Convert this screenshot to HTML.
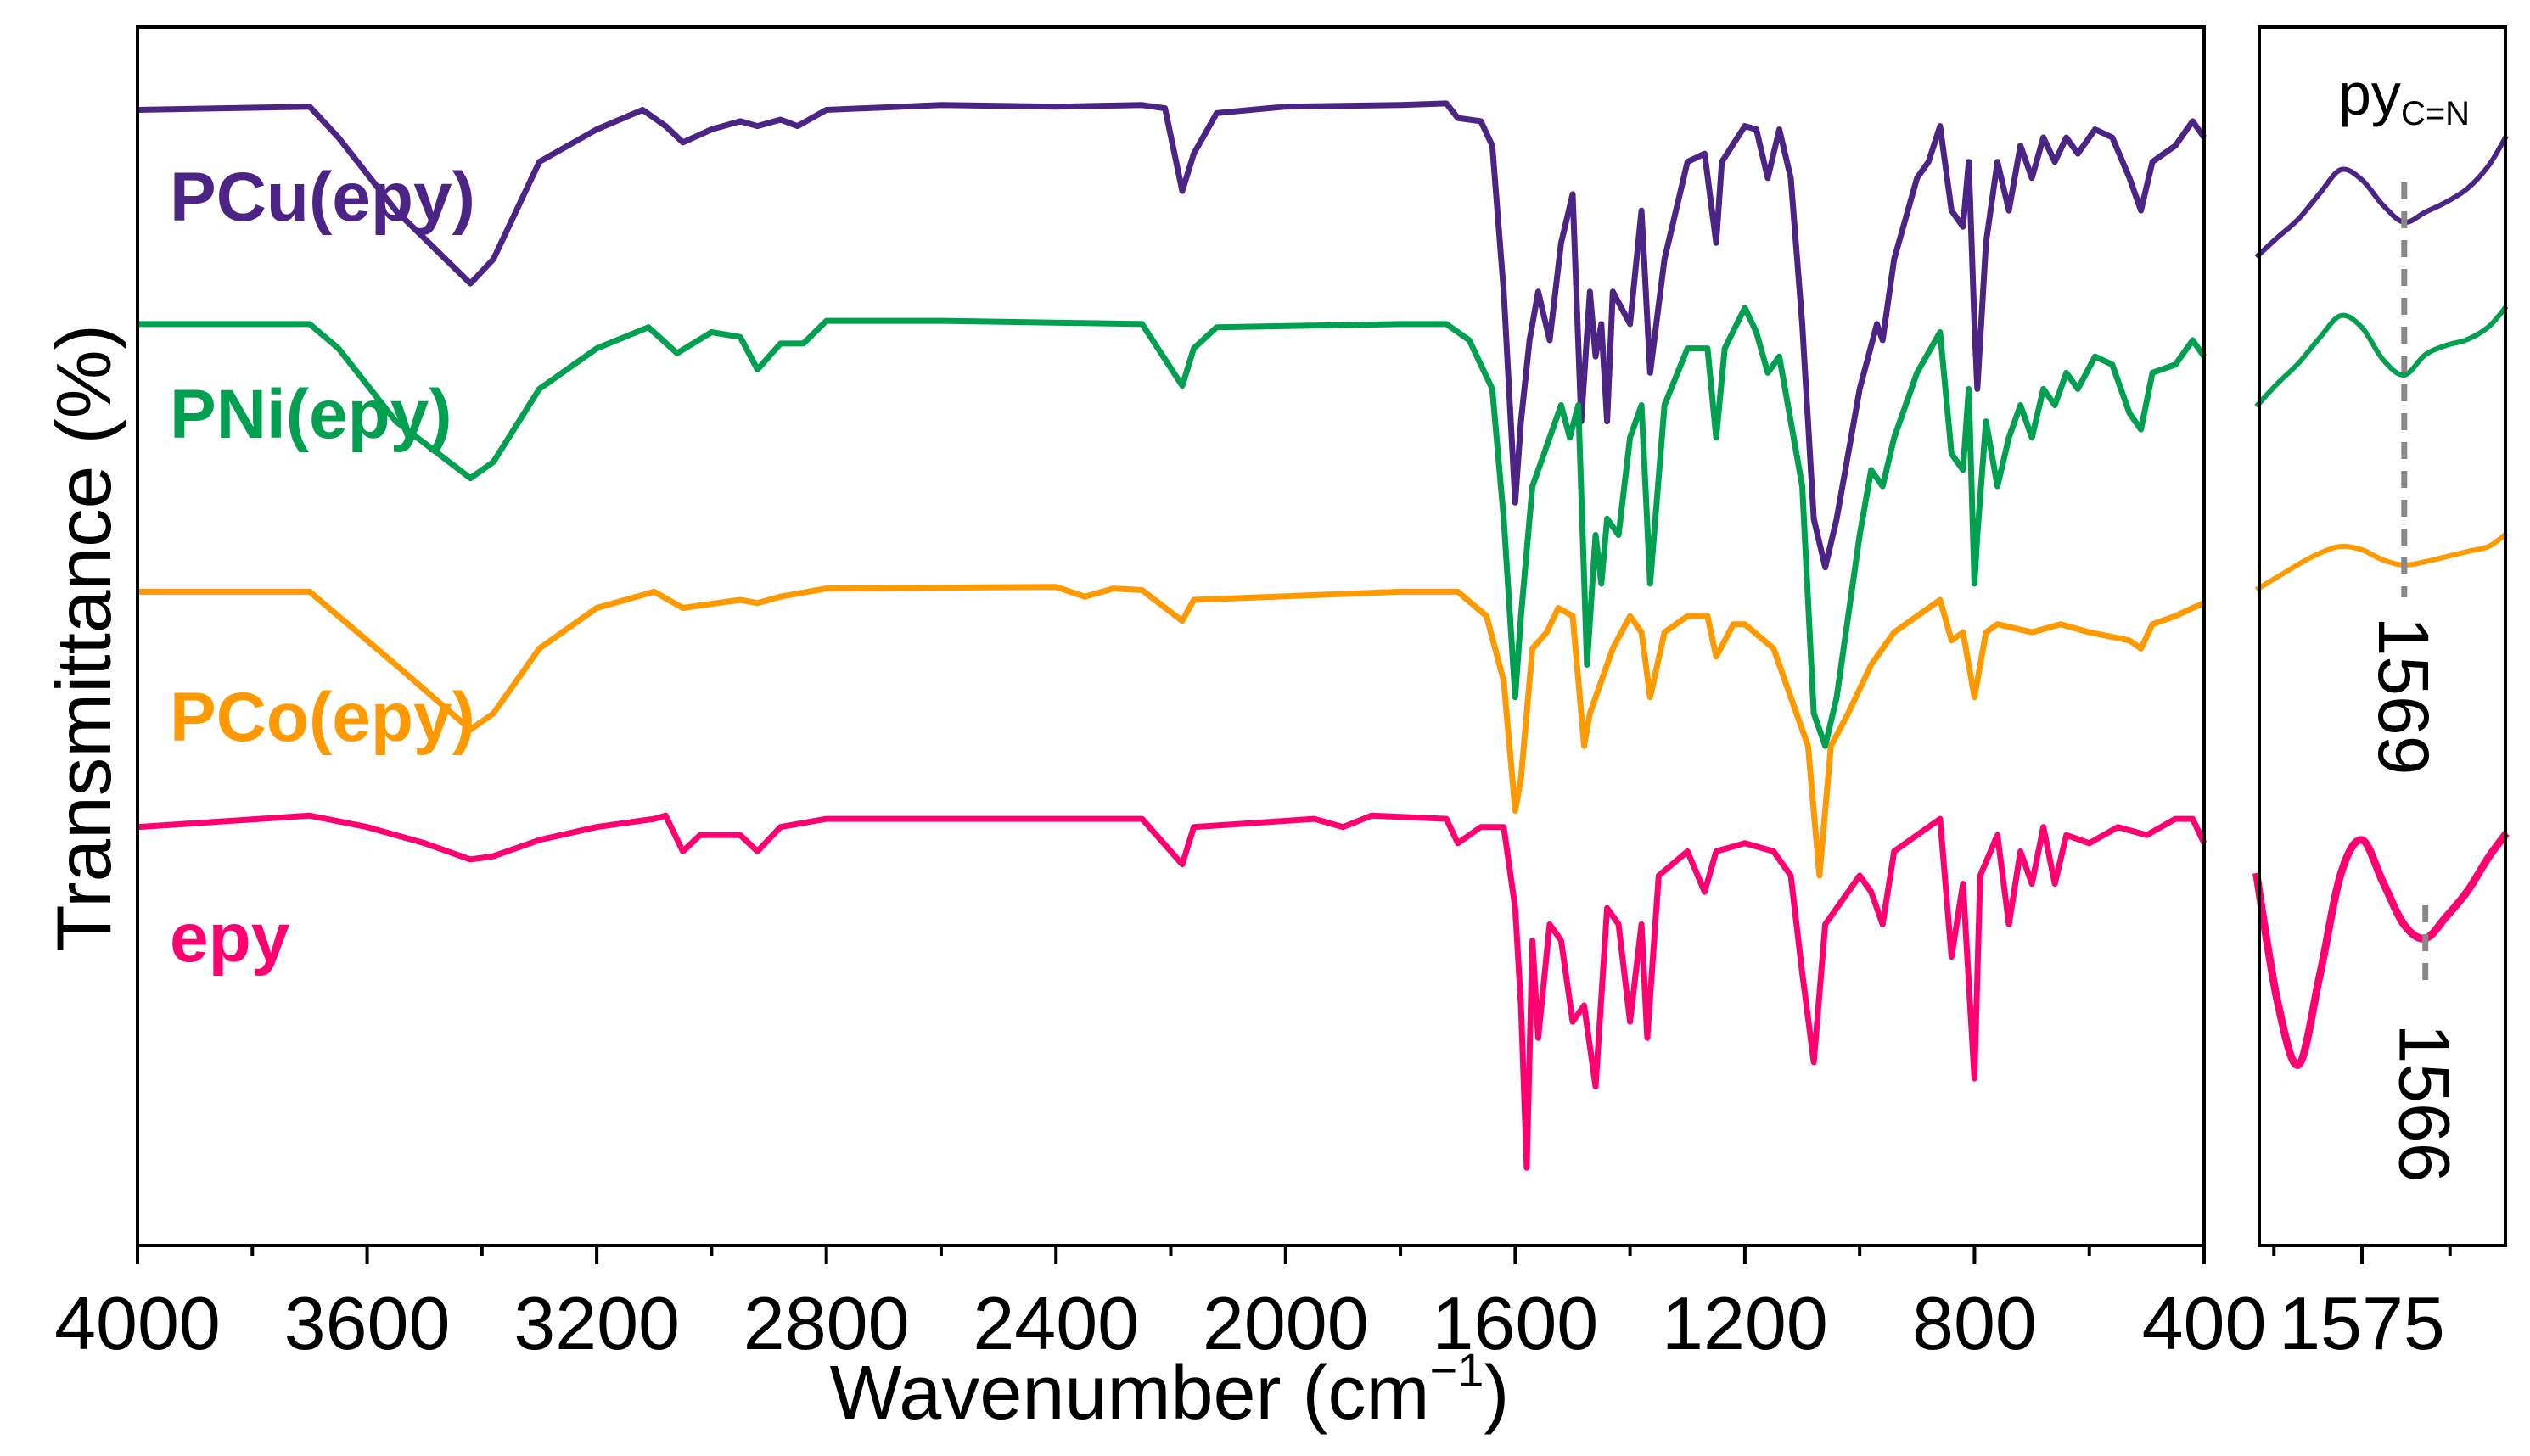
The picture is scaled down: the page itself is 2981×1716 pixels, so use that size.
<!DOCTYPE html>
<html><head><meta charset="utf-8">
<style>
html,body{margin:0;padding:0;background:#fff;}
svg{display:block;font-family:"Liberation Sans",Arial,sans-serif;}
</style></head>
<body>
<svg id="chart" width="2981" height="1716" viewBox="0 0 2981 1716" xmlns="http://www.w3.org/2000/svg">
<g id="plot"></g>
<g id="inset"></g>
</svg>
<script>
// Main-panel data: wavenumber (cm-1) and relative transmittance offset (a.u., larger = lower on plot)
const pcuWave=[4000,3700,3650,3550,3420,3380,3300,3200,3120,3080,3050,3000,2950,2920,2880,2850,2800,2600,2400,2250,2210,2180,2160,2120,2000,1800,1720,1700,1660,1640,1620,1600,1590,1575,1560,1540,1520,1500,1485,1470,1460,1450,1440,1430,1400,1380,1365,1340,1300,1270,1250,1240,1200,1180,1160,1140,1120,1100,1080,1060,1040,1000,970,960,940,900,880,860,840,820,810,800,795,780,760,740,720,700,680,660,640,620,590,560,530,510,490,450,420,400];
const pcuVal=[68,66,85,130,175,160,100,80,68,78,88,80,75,78,74,78,68,65,66,65,67,118,95,70,66,65,64,73,75,90,180,310,260,210,180,210,150,120,260,180,220,200,260,180,200,130,230,160,100,95,150,100,78,80,110,80,110,200,320,350,320,240,200,210,160,110,100,78,130,140,100,200,240,150,100,130,90,110,85,100,85,95,80,85,110,130,100,90,75,85];
const pniWave=[4000,3700,3650,3550,3420,3380,3300,3200,3110,3060,3000,2950,2920,2880,2840,2800,2600,2250,2180,2160,2120,1800,1720,1680,1640,1620,1600,1590,1570,1550,1520,1505,1490,1475,1460,1450,1440,1420,1400,1380,1365,1340,1300,1265,1250,1235,1200,1180,1160,1140,1100,1080,1060,1040,1000,980,960,940,900,860,840,820,810,800,795,780,760,740,720,700,680,660,640,620,590,560,530,510,490,450,420,400];
const pniVal=[200,200,215,260,295,285,240,215,202,218,205,208,228,212,212,198,198,200,238,215,202,200,200,210,240,320,430,380,300,280,250,270,250,410,330,360,320,330,270,250,360,250,215,215,270,215,190,205,230,220,300,440,460,430,330,290,300,270,230,205,280,290,240,360,330,260,300,270,250,270,240,250,230,240,220,225,255,265,230,225,210,220];
const pcoWave=[4000,3700,3650,3550,3420,3380,3300,3200,3100,3050,2950,2920,2880,2800,2400,2350,2300,2250,2180,2160,1800,1700,1650,1620,1600,1590,1570,1545,1525,1500,1480,1470,1450,1430,1400,1380,1365,1340,1300,1265,1250,1220,1200,1150,1120,1090,1070,1050,1020,980,960,940,900,860,840,820,800,780,760,700,650,600,530,510,490,450,420,400];
const pcoVal=[365,365,380,410,450,440,400,375,365,375,370,372,368,363,362,368,363,364,383,370,365,365,380,420,500,480,400,390,375,380,460,440,420,400,380,390,430,390,380,380,405,385,385,400,430,460,540,460,440,410,400,390,380,370,395,390,430,390,385,390,385,390,395,400,385,380,375,372];
const epyWave=[4000,3700,3600,3500,3420,3380,3300,3200,3100,3080,3050,3020,2950,2920,2880,2800,2250,2180,2160,1950,1900,1850,1720,1700,1660,1620,1600,1590,1580,1570,1560,1540,1520,1500,1480,1460,1440,1420,1400,1380,1370,1350,1300,1270,1250,1200,1150,1120,1100,1080,1060,1040,1000,980,960,940,900,860,840,820,800,790,760,740,720,700,680,660,640,600,550,500,450,420,400];
const epyVal=[510,503,510,520,530,528,518,510,505,503,525,515,515,525,510,505,505,533,510,505,510,503,505,520,510,510,560,620,720,580,640,570,580,630,620,670,560,570,630,570,640,540,525,550,525,520,525,540,600,655,570,560,540,550,570,525,515,505,590,545,665,540,515,570,525,545,510,545,515,520,510,515,505,505,520];
const xTicks=[4000,3600,3200,2800,2400,2000,1600,1200,800,400];
const seriesNames=["PCu(epy)","PNi(epy)","PCo(epy)","epy"];
// Inset data (wavenumber cm-1, relative transmittance offset a.u.)
const insetWave=[1590,1587,1584,1581,1578,1575,1572,1569,1566,1563,1560,1557,1554.5];
const insetPcu=[303,280,258,228,200,212,242,262,250,238,222,195,160];
const insetPni=[479,452,428,398,372,386,424,442,418,407,400,385,361];
const insetPco=[695,680,665,652,644,648,660,666,662,656,650,644,629];
const insetEpy=[1029,1180,1255,1150,1030,990,1040,1090,1106,1080,1050,1010,982];
const insetTicks=[1587.5,1575,1562.5];

const NS="http://www.w3.org/2000/svg";
const L=162,R=2597,T=32,B=1468;
const IL=2662,IR=2952;
function xs(w){return L+(4000-w)/3600*(R-L);}
function ys(v){return T+(v-17)/751*(B-T);}
function ixs(w){return 2783+(1575-w)*8.3;}
function iys(v){return v;}
function mk(tag,attrs,parent){const e=document.createElementNS(NS,tag);for(const k in attrs)e.setAttribute(k,attrs[k]);parent.appendChild(e);return e;}
function smooth(pts){
  let d="M"+pts[0][0].toFixed(1)+","+pts[0][1].toFixed(1);
  for(let i=0;i<pts.length-1;i++){
    const p0=pts[i-1]||pts[i],p1=pts[i],p2=pts[i+1],p3=pts[i+2]||p2;
    const c1=[p1[0]+(p2[0]-p0[0])/6,p1[1]+(p2[1]-p0[1])/6];
    const c2=[p2[0]-(p3[0]-p1[0])/6,p2[1]-(p3[1]-p1[1])/6];
    d+="C"+c1[0].toFixed(1)+","+c1[1].toFixed(1)+" "+c2[0].toFixed(1)+","+c2[1].toFixed(1)+" "+p2[0].toFixed(1)+","+p2[1].toFixed(1);
  }
  return d;
}
const plot=document.getElementById('plot'), inset=document.getElementById('inset');
const colors=["#4B2485","#00A050","#FF9900","#FF0070"];
const waves=[pcuWave,pniWave,pcoWave,epyWave], vals=[pcuVal,pniVal,pcoVal,epyVal];
const labelY=[260,516,873,1133];
for(let s=0;s<4;s++){
  let d="";
  for(let i=0;i<waves[s].length;i++){d+=(i?"L":"M")+xs(waves[s][i]).toFixed(1)+","+ys(vals[s][i]).toFixed(1);}
  const p=mk('path',{d:d,fill:'none',stroke:colors[s],'stroke-width':7,'stroke-linejoin':'round'},plot);
  
  
  const t=mk('text',{x:200,y:labelY[s],fill:colors[s],'font-size':82,'font-weight':'bold'},plot);
  t.textContent=seriesNames[s];
  
  
}
const box=mk('rect',{x:L,y:T,width:R-L,height:B-T,fill:'none',stroke:'#000','stroke-width':4},plot);


for(let w=4000;w>=400;w-=200){
  const major=xTicks.indexOf(w)>=0;
  mk('line',{x1:xs(w),x2:xs(w),y1:B,y2:B+(major?22:12),stroke:'#000','stroke-width':4},plot);
}
xTicks.forEach(w=>{
  const t=mk('text',{x:xs(w),y:1590,'font-size':88,'text-anchor':'middle',fill:'#000'},plot);
  t.textContent=w;
  
  
});
const xt=mk('text',{x:1378,y:1672,'font-size':90,'text-anchor':'middle',fill:'#000'},plot);
xt.innerHTML='Wavenumber (cm<tspan dy="-38" font-size="56">−1</tspan><tspan dy="38">)</tspan>';


const yt=mk('text',{x:0,y:0,'font-size':91,'text-anchor':'middle',fill:'#000',transform:'translate(130,752) rotate(-90)'},plot);
yt.textContent='Transmittance (%)';



// inset
const ivals=[insetPcu,insetPni,insetPco,insetEpy];
for(let s=0;s<4;s++){
  const pts=insetWave.map((w,i)=>[ixs(w),iys(ivals[s][i])]);
  const p=mk('path',{d:smooth(pts),fill:'none',stroke:colors[s],'stroke-width':s==3?9:6,'stroke-linejoin':'round'},inset);
  
  
}
mk('line',{x1:ixs(1569),x2:ixs(1569),y1:215,y2:704,stroke:'#888','stroke-width':7,'stroke-dasharray':'20,14'},inset);
mk('line',{x1:ixs(1566),x2:ixs(1566),y1:1067,y2:1160,stroke:'#888','stroke-width':7,'stroke-dasharray':'20,14'},inset);
const ibox=mk('rect',{x:IL,y:T,width:IR-IL,height:B-T,fill:'none',stroke:'#000','stroke-width':4},inset);


insetTicks.forEach(w=>{mk('line',{x1:ixs(w),x2:ixs(w),y1:B,y2:B+(w==1575?22:12),stroke:'#000','stroke-width':4},inset);});
const it=mk('text',{x:ixs(1575),y:1590,'font-size':88,'text-anchor':'middle',fill:'#000'},inset);
it.textContent='1575';


const py=mk('text',{x:2755,y:135,'font-size':70,fill:'#000'},inset);
py.innerHTML='py<tspan dy="12" font-size="40">C=N</tspan>';


const a1=mk('text',{x:0,y:0,'font-size':84,'text-anchor':'middle',fill:'#000',transform:'translate('+(ixs(1569)-30)+',820) rotate(90)'},inset);
a1.textContent='1569';


const a2=mk('text',{x:0,y:0,'font-size':84,'text-anchor':'middle',fill:'#000',transform:'translate('+(ixs(1566)-30)+',1300) rotate(90)'},inset);
a2.textContent='1566';


</script>
</body></html>
